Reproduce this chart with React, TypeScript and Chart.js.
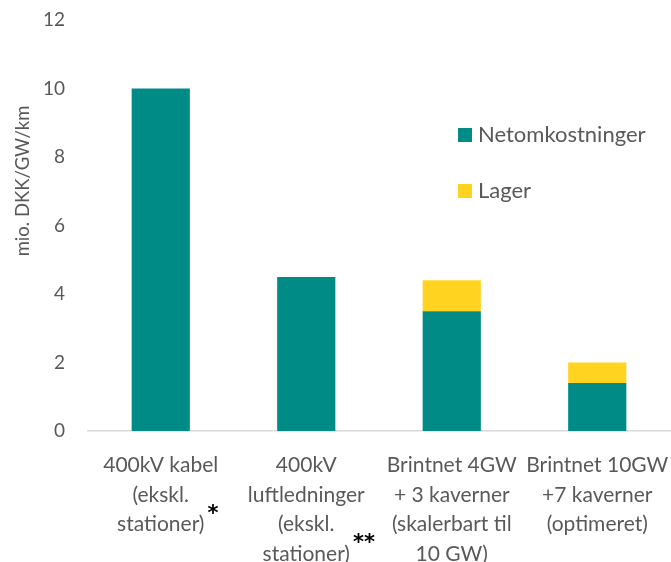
import React, { useEffect, useRef } from "react";
import { Chart, registerables } from "chart.js";
Chart.register(...registerables);

const categories: string[][] = [
  ["400kV kabel", "(ekskl.", "stationer)"],
  ["400kV", "luftledninger", "(ekskl.", "stationer)"],
  ["Brintnet 4GW", "+ 3 kaverner", "(skalerbart til", "10 GW)"],
  ["Brintnet 10GW", "+7 kaverner", "(optimeret)"],
];
const footnoteMarks = ["*", "**", "", ""];
const seriesNames = ["Netomkostninger", "Lager"];
const netomkostninger = [10, 4.5, 3.5, 1.4];
const lager = [null, null, 0.9, 0.6];
const yMin = 0;
const yMax = 12;
const yStep = 2;
const yTitle = "mio. DKK/GW/km";

const TEAL = "#008B86";
const YELLOW = "#FFD320";
const TEXT = "#595959";
const FONT = "Lato";
const X_FONT_SIZE = 21;
const X_LINE_H = 29.5;
const X_PAD = 19.5;

const zeroPad = (s: any) => {
  s.paddingTop = 0;
  s.paddingBottom = 0;
  s.paddingLeft = 0;
  s.paddingRight = 0;
};

const overlay = {
  id: "overlay",
  afterDraw(chart: any) {
    const ctx = chart.ctx as CanvasRenderingContext2D;
    const xs = chart.scales.x;
    ctx.save();
    footnoteMarks.forEach((m, i) => {
      if (!m) return;
      const lines = categories[i];
      const last = lines[lines.length - 1];
      ctx.font = `${X_FONT_SIZE}px ${FONT}`;
      const w = ctx.measureText(last).width;
      const px = xs.getPixelForTick(i);
      const lineY = xs.top + X_PAD + X_LINE_H * (lines.length - 0.5);
      ctx.font = `bold 21px "DejaVu Sans"`;
      ctx.fillStyle = "#000";
      ctx.textAlign = "left";
      ctx.textBaseline = "middle";
      ctx.fillText(m, px + w / 2 + 3, lineY - 10);
    });
    ctx.save();
    ctx.translate(23, 181);
    ctx.rotate(-Math.PI / 2);
    ctx.font = `18.5px ${FONT}`;
    ctx.fillStyle = TEXT;
    ctx.textAlign = "center";
    ctx.textBaseline = "middle";
    ctx.fillText(yTitle, 0, 0);
    ctx.restore();
    chart.data.datasets.forEach((ds: any, i: number) => {
      const top = 128 + i * 56;
      ctx.fillStyle = ds.backgroundColor;
      ctx.fillRect(458, top, 14, 14);
      ctx.font = `22px ${FONT}`;
      ctx.fillStyle = TEXT;
      ctx.textAlign = "left";
      ctx.textBaseline = "middle";
      ctx.fillText(ds.label, 478, top + 7);
    });
    ctx.restore();
  },
};

export default function App() {
  const ref = useRef<HTMLCanvasElement>(null);
  useEffect(() => {
    if (!ref.current) return;
    const chart = new Chart(ref.current, {
      type: "bar",
      data: {
        labels: categories,
        datasets: [
          { label: seriesNames[0], data: netomkostninger, backgroundColor: TEAL, borderWidth: 0 },
          { label: seriesNames[1], data: lager as any, backgroundColor: YELLOW, borderWidth: 0 },
        ],
      },
      options: {
        animation: false,
        responsive: true,
        maintainAspectRatio: false,
        layout: { padding: { top: 20, right: 1, left: 0, bottom: 0 } },
        datasets: { bar: { barPercentage: 0.4, categoryPercentage: 1 } },
        plugins: {
          legend: { display: false },
          tooltip: { enabled: false },
        },
        scales: {
          x: {
            stacked: true,
            grid: { display: false, drawTicks: false },
            border: { display: true, color: "#D9D9D9", width: 1.5 },
            ticks: {
              color: TEXT,
              padding: X_PAD,
              maxRotation: 0,
              autoSkip: false,
              font: { family: FONT, size: X_FONT_SIZE, lineHeight: X_LINE_H / X_FONT_SIZE },
            },
            afterFit: (s: any) => {
              s.height = 131;
              zeroPad(s);
            },
          },
          y: {
            stacked: true,
            min: yMin,
            max: yMax,
            grid: { display: false, drawTicks: false },
            border: { display: false },
            ticks: {
              stepSize: yStep,
              color: TEXT,
              padding: 23,
              font: { family: FONT, size: 19 },
            },
            afterFit: (s: any) => {
              s.width = 88;
              zeroPad(s);
            },
          },
        },
      },
      plugins: [overlay],
    });
    return () => chart.destroy();
  }, []);
  return (
    <div style={{ position: "fixed", left: 0, top: 0, width: 671, height: 562, background: "#fff" }}>
      <canvas ref={ref} />
    </div>
  );
}
